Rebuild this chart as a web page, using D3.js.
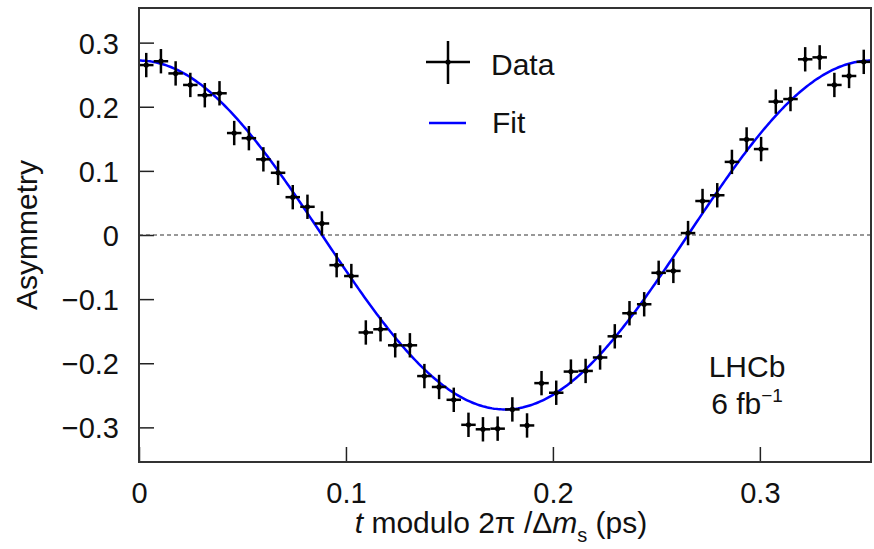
<!DOCTYPE html>
<html>
<head>
<meta charset="utf-8">
<script src="https://cdn.jsdelivr.net/npm/d3@7"></script>
<style>
  body { margin: 0; background: #fff; }
  svg { display: block; font-family: "Liberation Sans", Arial, Helvetica, sans-serif; }
</style>
</head>
<body>
<div id="chart"></div>
<script>
// LHCb Bs oscillation: asymmetry vs t modulo 2pi/dms

// bin centres (ps)
var tValues = [0.0035, 0.0106, 0.0177, 0.0248, 0.0318, 0.0389, 0.0460, 0.0531, 0.0601, 0.0672,
               0.0743, 0.0814, 0.0884, 0.0955, 0.1026, 0.1096, 0.1167, 0.1238, 0.1309, 0.1379,
               0.1450, 0.1521, 0.1592, 0.1662, 0.1733, 0.1804, 0.1875, 0.1945, 0.2016, 0.2087,
               0.2158, 0.2228, 0.2299, 0.2370, 0.2441, 0.2511, 0.2582, 0.2653, 0.2723, 0.2794,
               0.2865, 0.2936, 0.3006, 0.3077, 0.3148, 0.3219, 0.3289, 0.3360, 0.3431, 0.3502];
var tHalfWidth = 0.0035;

// measured asymmetry per bin
var asymValues = [0.265, 0.271, 0.252, 0.234, 0.218, 0.221, 0.159, 0.151, 0.118, 0.097,
                  0.059, 0.044, 0.018, -0.047, -0.064, -0.152, -0.147, -0.172, -0.172, -0.220,
                  -0.237, -0.257, -0.296, -0.303, -0.302, -0.272, -0.297, -0.231, -0.246, -0.213,
                  -0.212, -0.191, -0.158, -0.122, -0.108, -0.059, -0.056, 0.003, 0.053, 0.062,
                  0.114, 0.149, 0.134, 0.208, 0.212, 0.274, 0.277, 0.234, 0.248, 0.270];
var asymErrors = [0.019, 0.019, 0.019, 0.019, 0.019, 0.019, 0.019, 0.019, 0.019, 0.019,
                  0.019, 0.019, 0.019, 0.019, 0.019, 0.019, 0.019, 0.019, 0.019, 0.019,
                  0.019, 0.019, 0.019, 0.019, 0.019, 0.019, 0.019, 0.019, 0.019, 0.019,
                  0.019, 0.019, 0.019, 0.019, 0.019, 0.019, 0.019, 0.019, 0.019, 0.019,
                  0.019, 0.019, 0.019, 0.019, 0.019, 0.019, 0.019, 0.019, 0.019, 0.019];

// fit model: A cos(2pi t / P + phi)
var fitAmp = 0.272;
var fitPeriod = 0.3537;
var fitPhase = 0;

var xTicks = [0, 0.1, 0.2, 0.3];
var yTicks = [-0.3, -0.2, -0.1, 0, 0.1, 0.2, 0.3];

var svgWidth = 874;
var svgHeight = 549;
var margin = {top: 8, right: 3, bottom: 87, left: 139};
var width = svgWidth - margin.left - margin.right;
var height = svgHeight - margin.top - margin.bottom;

var svg = d3.select("#chart")
    .append("svg")
    .attr("width", svgWidth)
    .attr("height", svgHeight);

var chartGroup = svg.append("g")
    .attr("transform", `translate(${margin.left}, ${margin.top})`);

var xScale = d3.scaleLinear().domain([0, fitPeriod]).range([0, width]);
var yScale = d3.scaleLinear().domain([-0.354, 0.354]).range([height, 0]);

var fmt = function(d) {
    if (d === 0) return "0";
    return (d < 0 ? "\u2212" : "") + Math.abs(d).toFixed(1);
};

// axes, ticks pointing inward
var bottomAxis = d3.axisBottom(xScale).tickValues(xTicks).tickSize(-15).tickPadding(20).tickFormat(fmt);
var leftAxis = d3.axisLeft(yScale).tickValues(yTicks).tickSize(-15).tickPadding(20).tickFormat(fmt);

var xAxis = chartGroup.append("g")
    .attr("transform", `translate(0, ${height})`)
    .call(bottomAxis);
var yAxis = chartGroup.append("g").call(leftAxis);

[xAxis, yAxis].forEach(function(ax) {
    ax.select(".domain").remove();
    ax.selectAll(".tick line").attr("stroke", "#222").attr("stroke-width", 1.5);
    ax.selectAll(".tick text")
        .attr("fill", "#111")
        .attr("font-size", "29px")
        .attr("font-family", "'Liberation Sans', Arial, sans-serif");
});
xAxis.selectAll(".tick text").attr("dy", "0.71em");
yAxis.selectAll(".tick text").attr("dy", "0.36em");

// dashed zero line
chartGroup.append("line")
    .attr("x1", 0).attr("x2", width)
    .attr("y1", yScale(0)).attr("y2", yScale(0))
    .attr("stroke", "#333")
    .attr("stroke-width", 1.2)
    .attr("stroke-dasharray", "4,3");

// fit curve
var fitPts = d3.range(0, 401).map(function(k) {
    var t = fitPeriod * k / 400;
    return [t, fitAmp * Math.cos(2 * Math.PI * t / fitPeriod + fitPhase)];
});
chartGroup.append("path")
    .datum(fitPts)
    .attr("fill", "none")
    .attr("stroke", "#0000ff")
    .attr("stroke-width", 2.5)
    .attr("d", d3.line().x(d => xScale(d[0])).y(d => yScale(d[1])));

// data points with error bars
var points = tValues.map(function(t, i) {
    return {t: t, a: asymValues[i], e: asymErrors[i]};
});

var pts = chartGroup.selectAll(".pt")
    .data(points)
    .enter()
    .append("g")
    .attr("class", "pt");

pts.append("line")
    .attr("x1", d => xScale(d.t - tHalfWidth))
    .attr("x2", d => xScale(d.t + tHalfWidth))
    .attr("y1", d => yScale(d.a))
    .attr("y2", d => yScale(d.a))
    .attr("stroke", "#000")
    .attr("stroke-width", 2.5);

pts.append("line")
    .attr("x1", d => xScale(d.t))
    .attr("x2", d => xScale(d.t))
    .attr("y1", d => yScale(d.a - d.e))
    .attr("y2", d => yScale(d.a + d.e))
    .attr("stroke", "#000")
    .attr("stroke-width", 2.5);

pts.append("circle")
    .attr("cx", d => xScale(d.t))
    .attr("cy", d => yScale(d.a))
    .attr("r", 2.6)
    .attr("fill", "#000");

// frame
chartGroup.append("rect")
    .attr("x", 0).attr("y", 0)
    .attr("width", width).attr("height", height)
    .attr("fill", "none")
    .attr("stroke", "#333")
    .attr("stroke-width", 2);

// legend
var legend = svg.append("g");
legend.append("line").attr("x1", 426).attr("x2", 470).attr("y1", 62).attr("y2", 62)
    .attr("stroke", "#000").attr("stroke-width", 2.5);
legend.append("line").attr("x1", 448).attr("x2", 448).attr("y1", 41).attr("y2", 84)
    .attr("stroke", "#000").attr("stroke-width", 2.5);
legend.append("circle").attr("cx", 448).attr("cy", 62).attr("r", 2.6).attr("fill", "#000");
legend.append("text").attr("x", 491).attr("y", 75).attr("font-size", "30px").attr("fill", "#111").text("Data");
legend.append("line").attr("x1", 429).attr("x2", 466).attr("y1", 123).attr("y2", 123)
    .attr("stroke", "#0000ff").attr("stroke-width", 2.5);
legend.append("text").attr("x", 492).attr("y", 133).attr("font-size", "30px").attr("fill", "#111").text("Fit");

// LHCb label
svg.append("text")
    .attr("x", 747).attr("y", 377)
    .attr("text-anchor", "middle")
    .attr("font-size", "30px").attr("fill", "#111")
    .text("LHCb");
var lumi = svg.append("text")
    .attr("x", 747).attr("y", 414)
    .attr("text-anchor", "middle")
    .attr("font-size", "30px").attr("fill", "#111");
lumi.append("tspan").text("6 fb");
lumi.append("tspan").attr("dy", -12).attr("font-size", "19px").text("\u22121");

// axis titles
svg.append("text")
    .attr("transform", "translate(37, 235) rotate(-90)")
    .attr("text-anchor", "middle")
    .attr("font-size", "30px").attr("fill", "#111")
    .text("Asymmetry");

var xTitle = svg.append("text")
    .attr("x", 501).attr("y", 533)
    .attr("text-anchor", "middle")
    .attr("font-size", "30px").attr("fill", "#111");
xTitle.append("tspan").attr("font-style", "italic").text("t");
xTitle.append("tspan").text(" modulo 2\u03c0 /\u0394");
xTitle.append("tspan").attr("font-style", "italic").text("m");
xTitle.append("tspan").attr("dy", 9).attr("font-size", "20px").text("s");
xTitle.append("tspan").attr("dy", -9).text(" (ps)");
</script>
</body>
</html>
